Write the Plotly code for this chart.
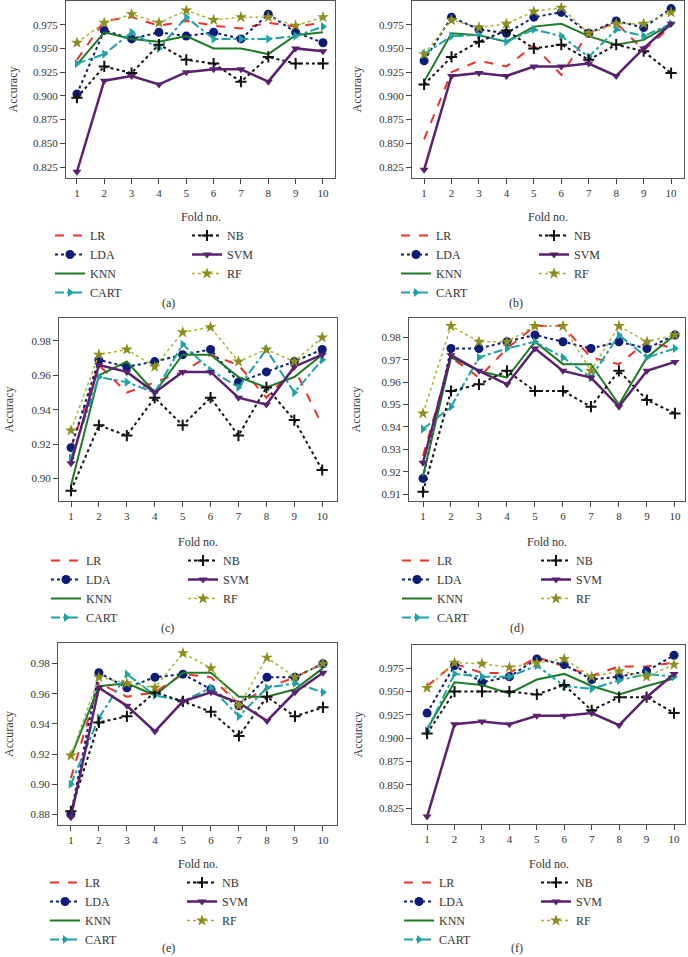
import plotly.graph_objects as go

W, H = 688, 957

folds = [1, 2, 3, 4, 5, 6, 7, 8, 9, 10]
models = ["LR", "LDA", "KNN", "CART", "NB", "SVM", "RF"]

# (a)
a_LR = [0.938, 0.979, 0.983, 0.974, 0.979, 0.974, 0.971, 0.977, 0.973, 0.977]
a_LDA = [0.902, 0.969, 0.960, 0.967, 0.963, 0.967, 0.960, 0.986, 0.967, 0.956]
a_KNN = [0.933, 0.967, 0.960, 0.957, 0.963, 0.950, 0.950, 0.944, 0.964, 0.967]
a_CART = [0.934, 0.944, 0.967, 0.950, 0.983, 0.960, 0.960, 0.960, 0.963, 0.973]
a_NB = [0.898, 0.931, 0.924, 0.954, 0.938, 0.934, 0.915, 0.941, 0.934, 0.934]
a_SVM = [0.820, 0.916, 0.921, 0.912, 0.925, 0.928, 0.928, 0.915, 0.950, 0.947]
a_RF = [0.956, 0.977, 0.986, 0.977, 0.990, 0.980, 0.983, 0.983, 0.974, 0.983]

# (b)
b_LR = [0.854, 0.925, 0.937, 0.931, 0.953, 0.922, 0.967, 0.977, 0.948, 0.973]
b_LDA = [0.937, 0.983, 0.970, 0.966, 0.983, 0.988, 0.966, 0.979, 0.972, 0.992]
b_KNN = [0.915, 0.966, 0.964, 0.957, 0.973, 0.976, 0.963, 0.954, 0.959, 0.976]
b_CART = [0.944, 0.963, 0.964, 0.957, 0.970, 0.963, 0.941, 0.970, 0.963, 0.976]
b_NB = [0.912, 0.941, 0.957, 0.969, 0.950, 0.954, 0.938, 0.954, 0.947, 0.924]
b_SVM = [0.822, 0.921, 0.924, 0.921, 0.931, 0.931, 0.934, 0.921, 0.950, 0.976]
b_RF = [0.944, 0.980, 0.972, 0.976, 0.989, 0.993, 0.966, 0.976, 0.976, 0.988]

# (c)
c_LR = [0.918, 0.966, 0.950, 0.956, 0.962, 0.972, 0.966, 0.947, 0.964, 0.931]
c_LDA = [0.918, 0.969, 0.965, 0.968, 0.972, 0.975, 0.956, 0.962, 0.968, 0.975]
c_KNN = [0.896, 0.960, 0.968, 0.950, 0.972, 0.972, 0.959, 0.953, 0.959, 0.972]
c_CART = [0.912, 0.959, 0.956, 0.950, 0.978, 0.963, 0.953, 0.975, 0.950, 0.969]
c_NB = [0.893, 0.931, 0.925, 0.947, 0.931, 0.947, 0.925, 0.953, 0.934, 0.905]
c_SVM = [0.909, 0.966, 0.962, 0.950, 0.962, 0.962, 0.947, 0.943, 0.965, 0.972]
c_RF = [0.928, 0.972, 0.975, 0.965, 0.985, 0.988, 0.968, 0.975, 0.968, 0.982]

# (d)
d_LR = [0.927, 0.971, 0.962, 0.975, 0.985, 0.985, 0.971, 0.968, 0.978, 0.975]
d_LDA = [0.917, 0.975, 0.975, 0.978, 0.981, 0.978, 0.975, 0.978, 0.975, 0.981]
d_KNN = [0.918, 0.971, 0.965, 0.962, 0.978, 0.968, 0.968, 0.950, 0.971, 0.981]
d_CART = [0.939, 0.949, 0.971, 0.975, 0.978, 0.971, 0.962, 0.981, 0.971, 0.975]
d_NB = [0.911, 0.956, 0.959, 0.965, 0.956, 0.956, 0.949, 0.965, 0.952, 0.946]
d_SVM = [0.924, 0.972, 0.965, 0.959, 0.975, 0.965, 0.962, 0.949, 0.965, 0.969]
d_RF = [0.946, 0.985, 0.978, 0.978, 0.985, 0.985, 0.965, 0.985, 0.978, 0.981]

# (e)
e_LR = [0.904, 0.967, 0.958, 0.961, 0.973, 0.971, 0.953, 0.964, 0.971, 0.980]
e_LDA = [0.880, 0.974, 0.964, 0.971, 0.973, 0.963, 0.952, 0.971, 0.971, 0.980]
e_KNN = [0.918, 0.965, 0.967, 0.959, 0.974, 0.974, 0.958, 0.958, 0.963, 0.977]
e_CART = [0.900, 0.944, 0.973, 0.959, 0.955, 0.964, 0.945, 0.964, 0.967, 0.961]
e_NB = [0.882, 0.941, 0.945, 0.961, 0.955, 0.948, 0.932, 0.958, 0.945, 0.951]
e_SVM = [0.878, 0.964, 0.952, 0.935, 0.955, 0.961, 0.954, 0.942, 0.961, 0.974]
e_RF = [0.919, 0.971, 0.967, 0.964, 0.987, 0.977, 0.952, 0.984, 0.971, 0.980]

# (f)
f_LR = [0.956, 0.980, 0.970, 0.970, 0.987, 0.977, 0.967, 0.977, 0.977, 0.981]
f_LDA = [0.927, 0.978, 0.960, 0.966, 0.985, 0.979, 0.963, 0.966, 0.972, 0.989]
f_KNN = [0.910, 0.960, 0.957, 0.948, 0.963, 0.969, 0.956, 0.947, 0.956, 0.964]
f_CART = [0.908, 0.969, 0.966, 0.966, 0.978, 0.956, 0.953, 0.962, 0.969, 0.966]
f_NB = [0.905, 0.950, 0.950, 0.950, 0.947, 0.957, 0.930, 0.944, 0.944, 0.927]
f_SVM = [0.816, 0.915, 0.918, 0.915, 0.924, 0.924, 0.927, 0.914, 0.944, 0.969]
f_RF = [0.954, 0.981, 0.980, 0.976, 0.981, 0.985, 0.966, 0.972, 0.966, 0.979]

ticks_3 = [0.825, 0.850, 0.875, 0.900, 0.925, 0.950, 0.975]
ticks_c = [0.90, 0.92, 0.94, 0.96, 0.98]
ticks_d = [0.91, 0.92, 0.93, 0.94, 0.95, 0.96, 0.97, 0.98]
ticks_e = [0.88, 0.90, 0.92, 0.94, 0.96, 0.98]

panels = [
    ("(a)", [a_LR, a_LDA, a_KNN, a_CART, a_NB, a_SVM, a_RF]),
    ("(b)", [b_LR, b_LDA, b_KNN, b_CART, b_NB, b_SVM, b_RF]),
    ("(c)", [c_LR, c_LDA, c_KNN, c_CART, c_NB, c_SVM, c_RF]),
    ("(d)", [d_LR, d_LDA, d_KNN, d_CART, d_NB, d_SVM, d_RF]),
    ("(e)", [e_LR, e_LDA, e_KNN, e_CART, e_NB, e_SVM, e_RF]),
    ("(f)", [f_LR, f_LDA, f_KNN, f_CART, f_NB, f_SVM, f_RF]),
]

# plot box in pixels (left, right, top, bottom), x range, y range, y ticks, format
boxes = [
    (66, 335, 1, 178, [0.60, 10.44], [0.8134, 1.0], ticks_3, ".3f"),
    (412, 684, 1, 178, [0.56, 10.47], [0.8134, 1.0], ticks_3, ".3f"),
    (59, 337, 318, 501, [0.57, 10.53], [0.887, 0.9933], ticks_c, ".2f"),
    (409, 685, 318, 501, [0.50, 10.36], [0.9069, 0.9886], ticks_d, ".2f"),
    (58, 337, 643, 825, [0.54, 10.50], [0.8729, 0.9937], ticks_e, ".2f"),
    (412, 685, 645, 824, [0.45, 10.40], [0.808, 1.0], ticks_3, ".3f"),
]
# legend text x (left / right column), legend top y, "Accuracy" x, panel label x / y, "Fold no." y
legpos = [
    (90, 227, 221, 12, 168, 303, 217),
    (436, 574, 221, 356, 516, 303, 217),
    (86, 223, 546, 9, 167, 628, 542),
    (437, 576, 546, 356, 517, 628, 542),
    (85, 222, 868, 9, 168, 948, 864),
    (439, 576, 868, 357, 517, 948, 864),
]

styles = {
    "LR": dict(color="#f2302b", dash="dash", width=2, symbol=None),
    "LDA": dict(color="#0c1c78", dash="dot", width=2, symbol="circle", size=9),
    "KNN": dict(color="#1f7a25", dash="solid", width=2, symbol=None),
    "CART": dict(color="#1ea2a4", dash="dashdot", width=2, symbol="triangle-right", size=8),
    "NB": dict(color="#111111", dash="dot", width=2, symbol="cross-thin", size=8),
    "SVM": dict(color="#5b216f", dash="solid", width=2.5, symbol="triangle-down", size=8),
    "RF": dict(color="#adb22c", dash="dot", width=1.5, symbol="star", size=9, mcolor="#8c8d1c"),
}

serif = "Liberation Serif"
fig = go.Figure()


def px_x(v):
    return v / W


def px_y(v):
    return 1 - v / H


for i, (label, series) in enumerate(panels):
    n = i + 1
    sfx = "" if n == 1 else str(n)
    leg_left = "legend" if i == 0 else "legend" + str(2 * i + 1)
    leg_right = "legend" + str(2 * i + 2)
    for m, ys in zip(models, series):
        st = styles[m]
        mk = dict()
        mode = "lines"
        if st["symbol"]:
            mode = "lines+markers"
            mk = dict(symbol=st["symbol"], size=st["size"], color=st.get("mcolor", st["color"]))
            if st["symbol"] == "cross-thin":
                mk["line"] = dict(width=2, color=st["color"])
        fig.add_trace(go.Scatter(
            x=folds, y=ys, name=m, mode=mode,
            line=dict(color=st["color"], dash=st["dash"], width=st["width"]),
            marker=mk,
            xaxis="x" + sfx, yaxis="y" + sfx,
            legend=leg_left if m in ("LR", "LDA", "KNN", "CART") else leg_right,
        ))

    l, r, t, b, xr, yr, yt, fmt = boxes[i]
    axis_common = dict(showline=True, linecolor="#555555", linewidth=1, mirror=True,
                       ticks="outside", ticklen=5, tickwidth=1, tickcolor="#444444",
                       showgrid=False, zeroline=False,
                       tickfont=dict(family=serif, size=11, color="#333333"))
    fig.update_layout(**{
        "xaxis" + sfx: dict(domain=[px_x(l), px_x(r)], range=xr, tickvals=folds,
                            anchor="y" + sfx, **axis_common),
        "yaxis" + sfx: dict(domain=[px_y(b), px_y(t)], range=yr, tickvals=yt, tickformat=fmt,
                            anchor="x" + sfx, **axis_common),
    })

    lx, rx, ly, accx, labx, laby, foldy = legpos[i]
    leg_common = dict(yanchor="top", xanchor="left", orientation="v", bgcolor="rgba(0,0,0,0)",
                      font=dict(family=serif, size=12, color="#333333"), itemwidth=30,
                      y=px_y(ly))
    fig.update_layout(**{
        leg_left: dict(x=px_x(lx - 40), **leg_common),
        leg_right: dict(x=px_x(rx - 40), **leg_common),
    })

    txt = dict(xref="paper", yref="paper", showarrow=False, xanchor="center", yanchor="middle",
               font=dict(family=serif, size=12, color="#333333"))
    fig.add_annotation(x=px_x(accx), y=px_y((t + b) / 2), text="Accuracy", textangle=-90, **txt)
    fig.add_annotation(x=px_x((l + r) / 2), y=px_y(foldy), text="Fold no.", **txt)
    fig.add_annotation(x=px_x(labx), y=px_y(laby), text=label, **txt)

fig.update_layout(
    width=W, height=H,
    margin=dict(l=0, r=0, t=0, b=0),
    paper_bgcolor="white", plot_bgcolor="white",
    showlegend=True,
)

fig.write_html("out.html", config={"displayModeBar": False},
               post_script="document.body.style.margin='0';document.body.style.overflow='hidden';")
